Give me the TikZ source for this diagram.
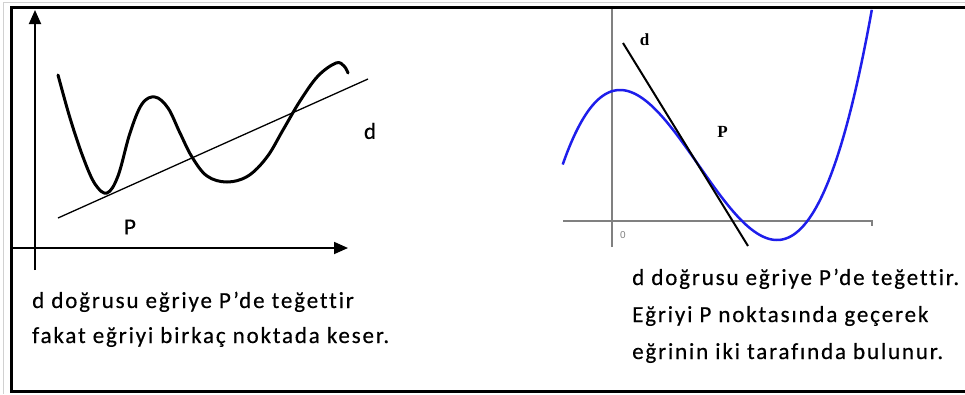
\documentclass[tikz,border=0pt]{standalone}
\usepackage{fontspec}
\usetikzlibrary{arrows.meta}
\newfontfamily\calfont{Carlito}[FakeBold=0.4]
\newfontfamily\calspaced{Carlito}[LetterSpace=8,Ligatures=NoCommon,FakeBold=0.4]
\newfontfamily\timesfont{Liberation Serif}
\definecolor{curveblue}{RGB}{30,30,235}
\definecolor{axisgray}{RGB}{128,128,128}
\begin{document}
\begin{tikzpicture}[x=1pt,y=-1pt,
  frameline/.style={line width=3pt,black},
  faintline/.style={line width=0.8pt,black!18},
  axisarrow/.style={line width=1.8pt,-{Triangle[length=14pt,width=12pt]}},
  thickcurve/.style={line width=3pt,line cap=round,line join=round},
  tangentthin/.style={line width=1.3pt},
  grayaxis/.style={line width=1.3pt,axisgray},
  bluecurve/.style={line width=2.5pt,curveblue},
  tangentbold/.style={line width=2pt},
  bodytext/.style={anchor=base west,inner sep=0pt,font=\calspaced\fontsize{23}{23}\selectfont},
  labelsans/.style={inner sep=0pt,font=\calfont\fontsize{23}{23}\selectfont},
  labelserif/.style={inner sep=0pt,font=\timesfont\bfseries\fontsize{17}{17}\selectfont}]
\useasboundingbox (0,0) rectangle (965,394);
% outer frame
\coordinate (g1) at (965,2); \coordinate (g2) at (3,2); \coordinate (g3) at (3,394);
\draw[faintline] (g1) -- (g2) -- (g3);
\coordinate (f1) at (966,7); \coordinate (f2) at (11,7); \coordinate (f3) at (11,391); \coordinate (f4) at (966,391);
\draw[frameline] (f1) -- (f2) -- (f3) -- (f4);
% ---------- left diagram ----------
\coordinate (ly0) at (35,270); \coordinate (ly1) at (35,10);
\coordinate (lx0) at (10,248); \coordinate (lx1) at (348,248);
\draw[axisarrow] (ly0) -- (ly1);
\draw[axisarrow] (lx0) -- (lx1);
\draw[thickcurve] plot[smooth,tension=0.6] coordinates {
 (58,75) (70,118) (83,157) (95,184) (107,193) (118,176) (130,133) (142,104) (155,97)
 (168,108) (180,133) (192,157) (207,176) (227,182) (248,176) (267,157) (283,130)
 (300,101) (318,76) (336,63) (344,66) (348,73)};
\coordinate (ld0) at (58,218); \coordinate (ld1) at (368,79);
\draw[tangentthin] (ld0) -- (ld1);
\node[labelsans] (ldlab) at (370,131) {d};
\node[labelsans] (lplab) at (130,227) {P};
\node[bodytext] (lt1) at (32,308) {d doğrusu eğriye P’de teğettir};
\node[bodytext] (lt2) at (32,343) {fakat eğriyi birkaç noktada keser.};
% ---------- right diagram ----------
\coordinate (ry0) at (612,247); \coordinate (ry1) at (612,9);
\coordinate (rx0) at (563,221); \coordinate (rx1) at (872,221); \coordinate (rx2) at (872,226);
\draw[grayaxis] (ry0) -- (ry1);
\draw[grayaxis] (rx0) -- (rx1) -- (rx2);
\node[inner sep=0pt,text=axisgray,font=\fontspec{Liberation Sans}\fontsize{10}{10}\selectfont] (zero) at (623,235) {0};
\draw[bluecurve] plot[domain=-1.73:2.21,samples=150,variable=\u] ({698.5+78.5*\u},{165+37.5*(3*\u-\u*\u*\u)});
\coordinate (rd0) at (623,43); \coordinate (rd1) at (748,246);
\draw[tangentbold] (rd0) -- (rd1);
\node[labelserif] (rdlab) at (644.5,40) {d};
\node[labelserif] (rplab) at (722.5,131.5) {P};
\node[bodytext] (rt1) at (632,285) {d doğrusu eğriye P’de teğettir.};
\node[bodytext] (rt2) at (632,322) {Eğriyi P noktasında geçerek};
\node[bodytext] (rt3) at (632,359) {eğrinin iki tarafında bulunur.};
\end{tikzpicture}
\end{document}
